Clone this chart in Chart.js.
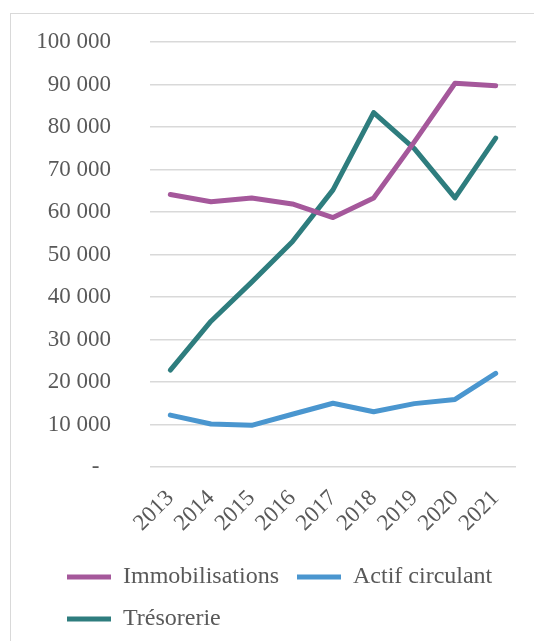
<!DOCTYPE html>
<html>
<head>
<meta charset="utf-8">
<script src="https://cdn.jsdelivr.net/npm/chart.js@4/dist/chart.umd.min.js"></script>
<style>
  body { margin: 0; background: #fff; }
  #frame {
    position: absolute; left: 10px; top: 13px; width: 600px; height: 700px;
    border-left: 1.5px solid #d9d9d9; border-top: 1.5px solid #d9d9d9;
  }
  #wrap { position: absolute; left: 0; top: 0; width: 534px; height: 641px; }
</style>
</head>
<body>
<div id="frame"></div>
<div id="wrap"><canvas id="chart"></canvas></div>
<script>
const years = ['2013', '2014', '2015', '2016', '2017', '2018', '2019', '2020', '2021'];
const immobilisations = [64100, 62400, 63300, 61900, 58700, 63300, 76500, 90300, 89700];
const actifCirculant = [12200, 10100, 9800, 12400, 15000, 13000, 14900, 15900, 22000];
const tresorerie = [22800, 34300, 43500, 53000, 65200, 83400, 74900, 63300, 77400];

const textColor = '#595959';
const fontFamily = '"Liberation Serif", "Times New Roman", serif';

// Format like Excel: "100 000", zero shown as a dash
function formatTick(value) {
  if (value === 0) return '-  ';
  return String(value).replace(/\B(?=(\d{3})+(?!\d))/g, ' ');
}

// Excel puts the second legend row at the same left edge as the first
const legendShift = {
  id: 'legendShift',
  afterLayout(chart) {
    chart.legend.left += 49;
  }
};

function makeSet(label, data, color) {
  return {
    label: label,
    data: data,
    borderColor: color,
    backgroundColor: color,
    borderWidth: 5,
    borderCapStyle: 'round',
    borderJoinStyle: 'round',
    pointRadius: 0,
    pointStyle: 'line',
    tension: 0
  };
}

new Chart(document.getElementById('chart'), {
  type: 'line',
  data: {
    labels: years,
    datasets: [
      makeSet('Immobilisations', immobilisations, '#A5589B'),
      makeSet('Actif circulant', actifCirculant, '#4A96CF'),
      makeSet('Trésorerie', tresorerie, '#2E7D7E')
    ]
  },
  plugins: [legendShift],
  options: {
    responsive: true,
    maintainAspectRatio: false,
    animation: false,
    layout: { padding: { left: 0, right: 18, top: 42, bottom: 0 } },
    scales: {
      x: {
        offset: true,
        grid: { display: false },
        border: { display: false },
        // rotated year labels should not push the plot to the right
        afterFit(scale) {
          scale.paddingLeft = 0;
          scale.paddingRight = 0;
        },
        ticks: {
          autoSkip: false,
          color: textColor,
          font: { family: fontFamily, size: 23 },
          minRotation: 45,
          maxRotation: 45,
          padding: 10
        }
      },
      y: {
        min: 0,
        max: 100000,
        border: { display: false },
        grid: { color: '#d9d9d9', lineWidth: 1.5, drawTicks: false },
        afterFit(scale) {
          scale.width = 150;
          scale.paddingTop = 0;
          scale.paddingBottom = 0;
        },
        ticks: {
          stepSize: 10000,
          color: textColor,
          font: { family: fontFamily, size: 23 },
          padding: 39,
          callback: formatTick
        }
      }
    },
    plugins: {
      legend: {
        position: 'bottom',
        align: 'start',
        labels: {
          usePointStyle: true,
          pointStyleWidth: 44,
          padding: 18,
          color: textColor,
          font: { family: fontFamily, size: 24 }
        }
      },
      tooltip: { enabled: false }
    }
  }
});
</script>
</body>
</html>
